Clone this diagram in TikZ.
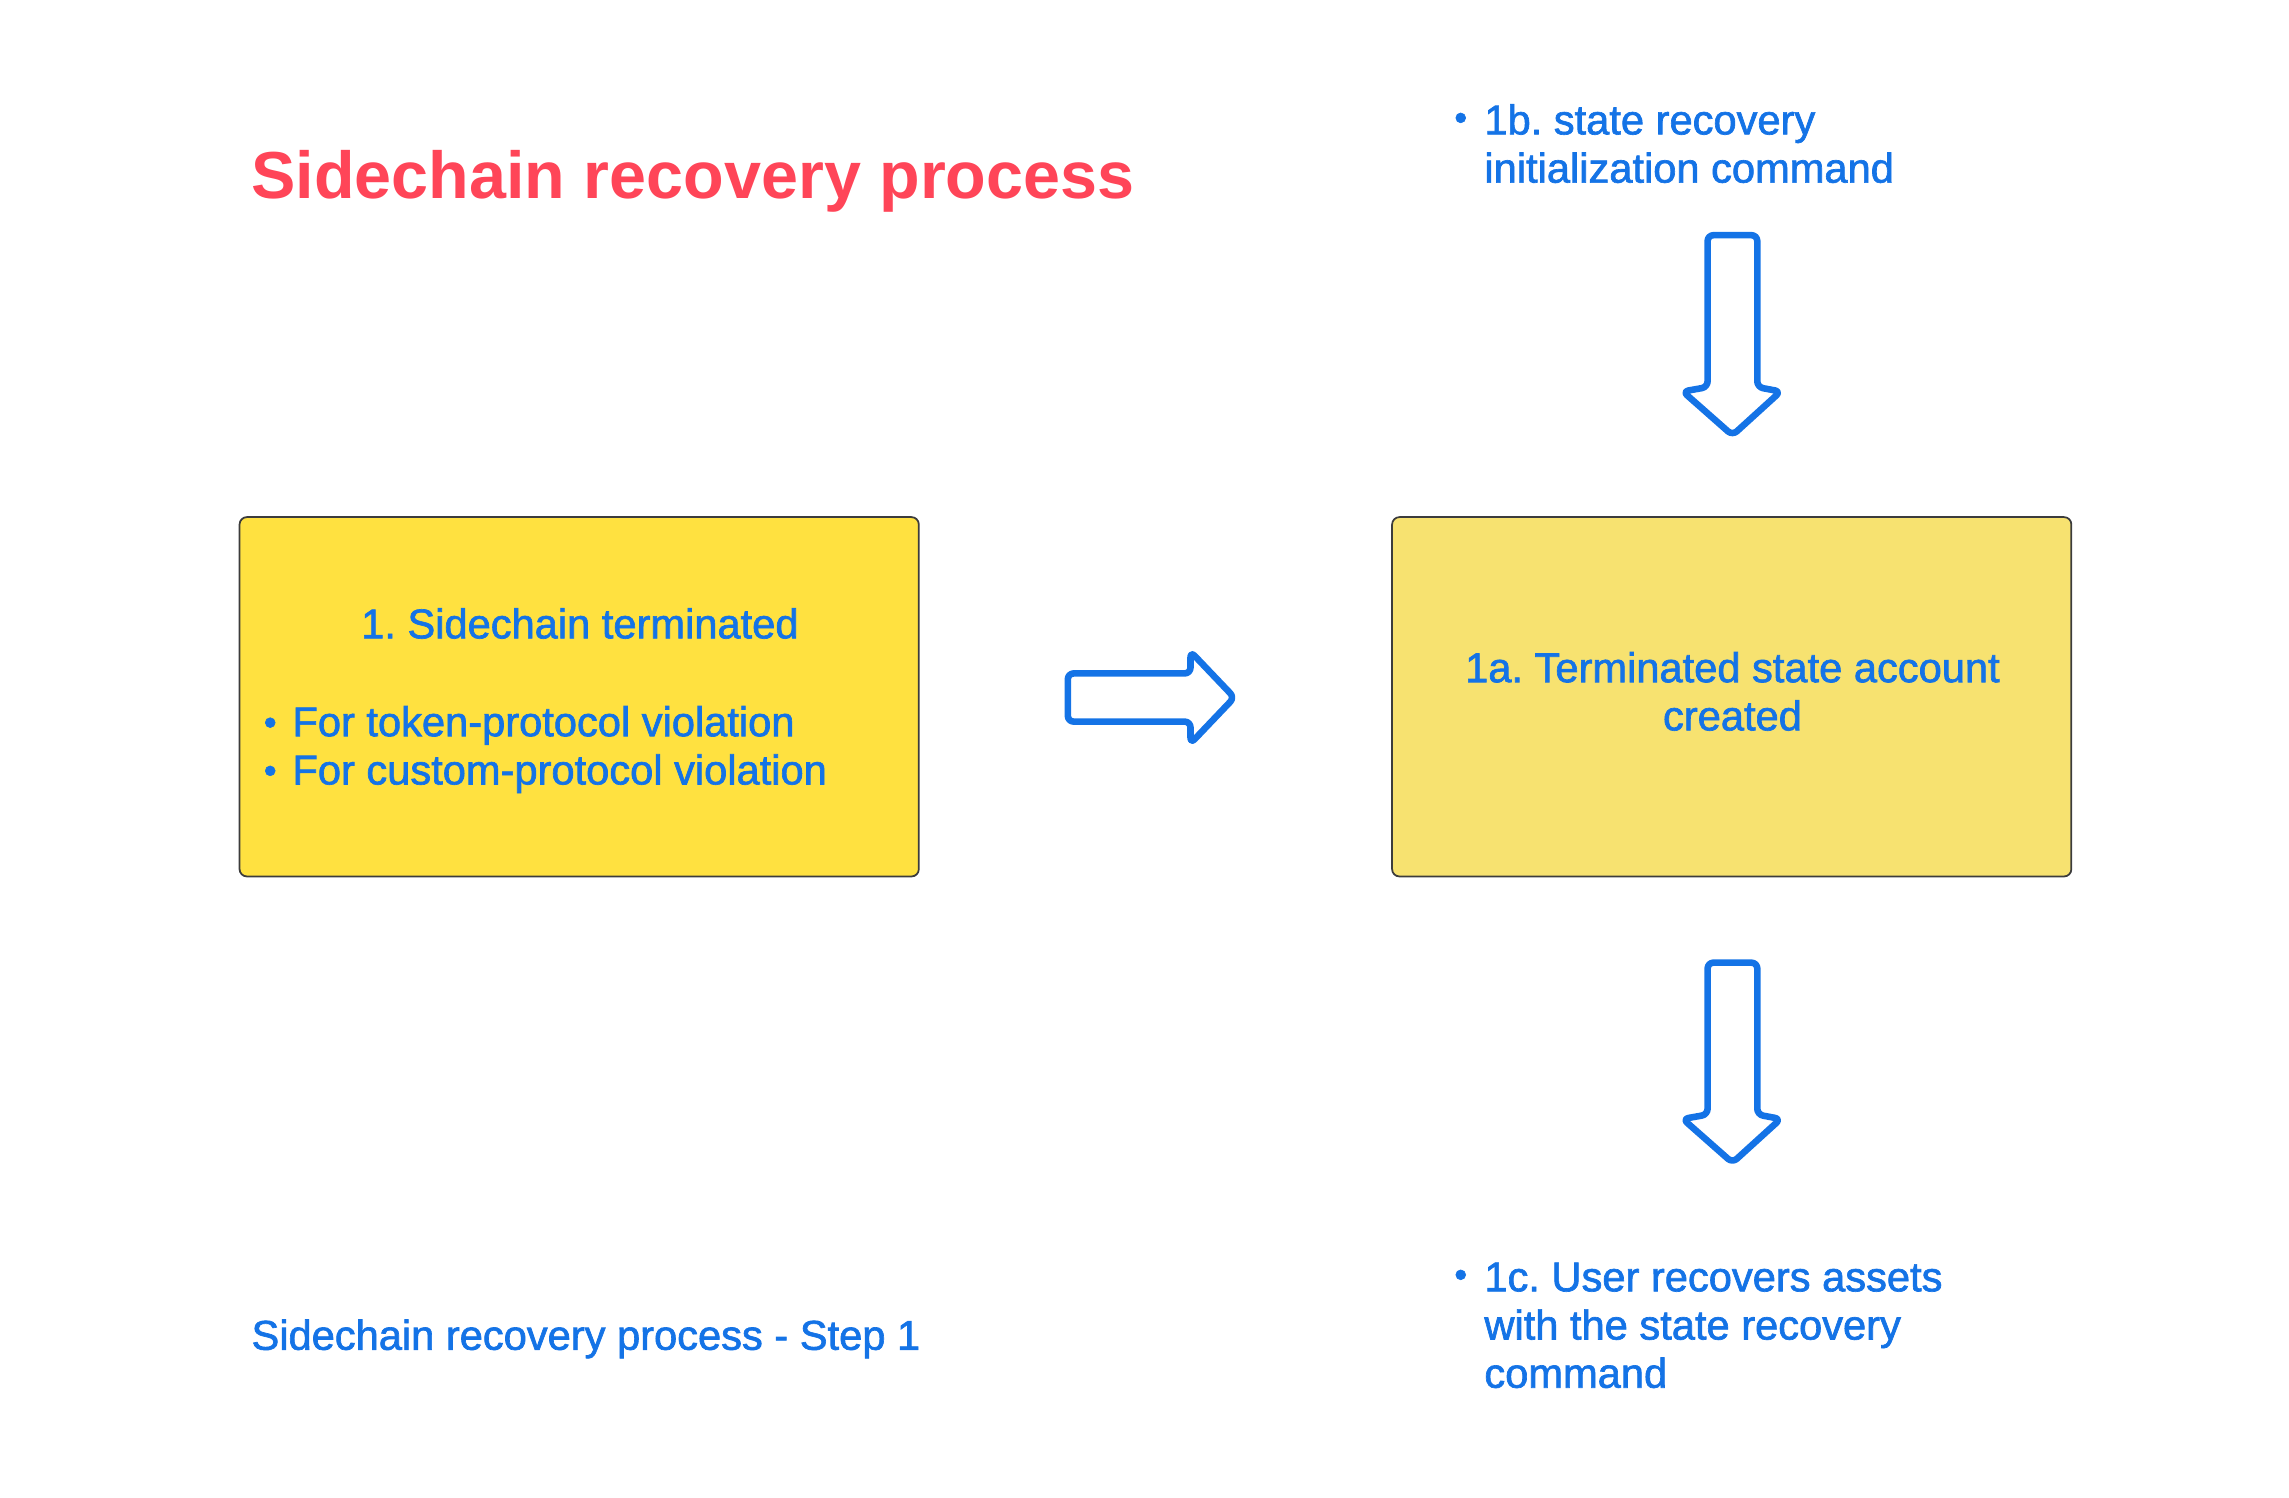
\documentclass[tikz,border=0pt]{standalone}
\usepackage{fontspec}
\setmainfont{Liberation Sans}
\newfontfamily\medfont[FakeBold=1.6]{Liberation Sans}
\usetikzlibrary{positioning}
\frenchspacing

\definecolor{titlered}{RGB}{255,69,88}
\definecolor{stepblue}{RGB}{20,115,230}
\definecolor{termyellow}{RGB}{255,225,64}
\definecolor{acctyellow}{RGB}{247,226,112}
\definecolor{boxline}{RGB}{60,60,60}

\tikzset{
  stepbox/.style={draw=boxline, line width=1.2pt, rounded corners=5pt, minimum width=465pt, minimum height=246pt, inner sep=0pt},
  steptext/.style={text=stepblue, font=\medfont\fontsize{28.5}{33}\selectfont, inner sep=0pt, anchor=base west},
  dot/.style={text=stepblue, font=\medfont\fontsize{25}{25}\selectfont, inner sep=0pt, anchor=base},
  blockarrow/.style={draw=stepblue, line width=4.5pt, rounded corners=4pt, line join=round}
}

\begin{document}
\begin{tikzpicture}[x=1pt, y=-1pt]
  \useasboundingbox (0,0) rectangle (1567,1025.5);

  \node[anchor=base west, text=titlered, font=\bfseries\fontsize{45.5}{54}\selectfont, inner sep=0pt] (title) at (172,136) {Sidechain recovery process};

  % the two boxes
  \node[stepbox, fill=termyellow] (terminated) at (396.5,477) {};
  \node[stepbox, fill=acctyellow] (account) at (1185.5,477) {};

  \node[steptext, anchor=base] (termhead) at (397,437) {1. Sidechain terminated};
  \node[dot] (tokendot) at (185,503) {\textbullet};
  \node[steptext] (token) at (200,504) {For token-protocol violation};
  \node[dot] (customdot) at (185,536) {\textbullet};
  \node[steptext] (custom) at (200,537) {For custom-protocol violation};

  \node[steptext, anchor=base] (accthead) at (1186,467) {1a. Terminated state account};
  \node[steptext, anchor=base] (acctend) at (1186,500) {created};

  % 1b above the box
  \node[dot] (initdot) at (1000,89) {\textbullet};
  \node[steptext] (initone) at (1016,92) {1b. state recovery};
  \node[steptext] (inittwo) at (1016,125) {initialization command};

  % 1c below the box
  \node[dot] (userdot) at (1000,881) {\textbullet};
  \node[steptext] (userone) at (1016,884) {1c. User recovers assets};
  \node[steptext] (usertwo) at (1016,917) {with the state recovery};
  \node[steptext] (userthree) at (1016,950) {command};

  \node[steptext] (caption) at (172,924) {Sidechain recovery process - Step 1};

  % block arrows
  \draw[blockarrow] (731,461) -- (815,461) -- (815,446) -- (845,477.5) -- (815,509) -- (815,494) -- (731,494) -- cycle;
  \draw[blockarrow] (1169,161) -- (1203,161) -- (1203,265) -- (1219,268) -- (1186,298) -- (1152,268) -- (1169,265) -- cycle;
  \draw[blockarrow] (1169,659) -- (1203,659) -- (1203,763) -- (1219,766) -- (1186,796) -- (1152,766) -- (1169,763) -- cycle;
\end{tikzpicture}
\end{document}
